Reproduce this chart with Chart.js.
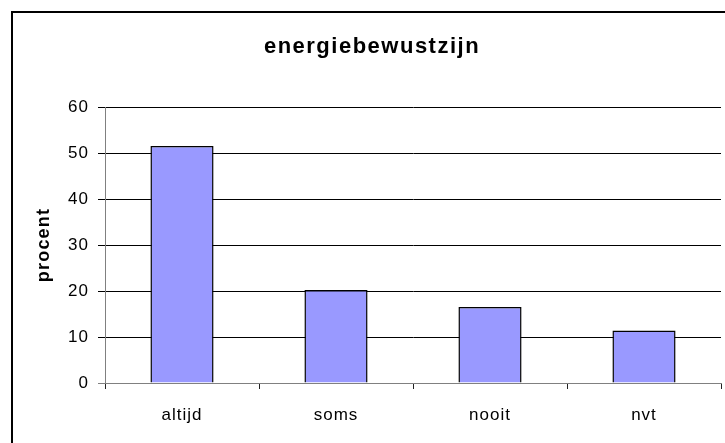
<!DOCTYPE html>
<html>
<head>
<meta charset="utf-8">
<script src="https://cdn.jsdelivr.net/npm/chart.js@4/dist/chart.umd.min.js"></script>
<style>
  html, body { margin: 0; padding: 0; background: #fff; }
  #wrap { position: relative; width: 725px; height: 443px; overflow: hidden; }
  #c { position: absolute; left: 0; top: 0; }
  #frame { position: absolute; left: 11px; top: 11px; width: 2000px; height: 2000px;
           border-left: 2px solid #000; border-top: 2px solid #000; pointer-events: none; }
</style>
</head>
<body>
<div id="wrap">
  <canvas id="c" width="725" height="443"></canvas>
  <div id="frame"></div>
</div>
<script>
const categories = ['altijd', 'soms', 'nooit', 'nvt'];
const procent = [51.5, 20.2, 16.5, 11.4];
const yTicks = [0, 10, 20, 30, 40, 50, 60];
const chartTitle = 'energiebewustzijn';
const yTitle = 'procent';

const FONT = "'Liberation Sans', Arial, sans-serif";

const spacingPlugin = {
  id: 'spacing',
  beforeDraw(chart) { chart.ctx.letterSpacing = '1px'; },
  afterInit(chart) {
    const tb = chart.titleBlock;
    if (tb) {
      const orig = tb.draw.bind(tb);
      tb.draw = function () {
        const ctx = this.ctx; const prev = ctx.letterSpacing;
        ctx.letterSpacing = '1.5px'; orig(); ctx.letterSpacing = prev;
      };
    }
  },
  afterLayout(chart) {
    const ys = chart.scales.y;
    if (ys && !ys._wrapped) {
      const orig = ys.drawTitle.bind(ys);
      ys.drawTitle = function () {
        const ctx = this.ctx; const prev = ctx.letterSpacing;
        ctx.letterSpacing = '1.2px'; orig(); ctx.letterSpacing = prev;
      };
      ys._wrapped = true;
    }
  }
};

new Chart(document.getElementById('c'), {
  type: 'bar',
  data: {
    labels: categories,
    datasets: [{
      label: yTitle,
      data: procent,
      backgroundColor: '#9999FF',
      borderColor: '#000000',
      borderWidth: 1.5,
      barPercentage: 0.41,
      categoryPercentage: 1.0
    }]
  },
  options: {
    responsive: false,
    animation: false,
    devicePixelRatio: 1,
    layout: { padding: { left: 23, right: 4, top: 0, bottom: 0 } },
    plugins: {
      legend: { display: false },
      tooltip: { enabled: false },
      title: {
        display: true,
        text: chartTitle,
        color: '#000',
        font: { family: FONT, size: 22, weight: 'bold', lineHeight: 1.2 },
        padding: { top: 33.8, bottom: 46.8 }
      }
    },
    scales: {
      x: {
        offset: true,
        grid: {
          display: true, offset: true, drawOnChartArea: false, drawTicks: true,
          tickLength: 6, tickColor: '#222', color: '#222'
        },
        border: { display: true, color: '#808080', width: 1 },
        ticks: { color: '#000', font: { family: FONT, size: 17 }, padding: 16, maxRotation: 0 },
        afterFit(scale) { scale.height = 60; }
      },
      y: {
        min: 0, max: 60,
        afterBuildTicks(scale) { scale.ticks = yTicks.map(v => ({ value: v })); },
        grid: {
          color: (ctx) => (ctx.tick && ctx.tick.value === 0) ? '#808080' : '#000',
          tickLength: 7, lineWidth: 1
        },
        border: { display: true, color: '#808080', width: 1 },
        ticks: { color: '#000', font: { family: FONT, size: 17 }, padding: 9 },
        title: {
          display: true, text: yTitle, color: '#000',
          font: { family: FONT, size: 18, weight: 'bold', lineHeight: 1.2 },
          padding: { top: 10.2, bottom: 0 }
        },
        afterFit(scale) { scale.width = 82; }
      }
    }
  },
  plugins: [spacingPlugin]
});
</script>
</body>
</html>
